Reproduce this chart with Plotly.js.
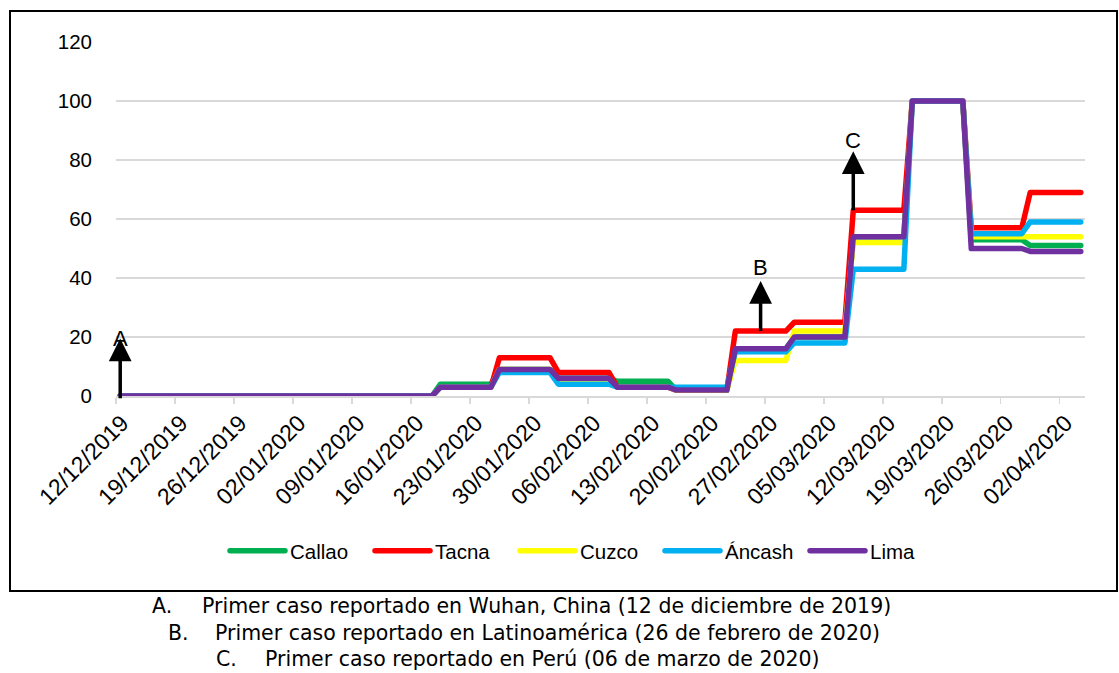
<!DOCTYPE html>
<html><head><meta charset="utf-8">
<script src="https://cdn.plot.ly/plotly-3.0.1.min.js"></script>
<style>
html,body{margin:0;padding:0;background:#fff;}
#chart{width:1119px;height:673px;}
.js-line{stroke-linejoin:round !important;stroke-linecap:round !important;}
</style></head><body><div id="chart"></div><script>
// Weekly values (week starting on Sunday)
const weekStarts = ['2019-12-08','2019-12-15','2019-12-22','2019-12-29','2020-01-05','2020-01-12','2020-01-19','2020-01-26','2020-02-02','2020-02-09','2020-02-16','2020-02-23','2020-03-01','2020-03-08','2020-03-15','2020-03-22','2020-03-29'];
const callao = [0,0,0,0,0,0,4,9,6,5,2,16,20,54,100,53,51];
const tacna  = [0,0,0,0,0,0,3,13,8,3,2,22,25,63,100,57,69];
const cuzco  = [0,0,0,0,0,0,3,9,5,3,2,12,22,52,100,54,54];
const ancash = [0,0,0,0,0,0,3,8,4,3,3,15,18,43,100,55,59];
const lima   = [0,0,0,0,0,0,3,9,6,3,2,16,20,54,100,50,49];
const seriesNames = ['Callao','Tacna','Cuzco','Áncash','Lima'];
const firstDay = '2019-12-12';
const lastDay = '2020-04-04';
const tickDates = ['2019-12-12','2019-12-19','2019-12-26','2020-01-02','2020-01-09','2020-01-16','2020-01-23','2020-01-30','2020-02-06','2020-02-13','2020-02-20','2020-02-27','2020-03-05','2020-03-12','2020-03-19','2020-03-26','2020-04-02'];
const tickLabels = ['12/12/2019','19/12/2019','26/12/2019','02/01/2020','09/01/2020','16/01/2020','23/01/2020','30/01/2020','06/02/2020','13/02/2020','20/02/2020','27/02/2020','05/03/2020','12/03/2020','19/03/2020','26/03/2020','02/04/2020'];
const markerLetters = ['A','B','C'];
const markerDates = ['2019-12-12','2020-02-26','2020-03-08'];
const footnotes = ['Primer caso reportado en Wuhan, China (12 de diciembre de 2019)','Primer caso reportado en Latinoamérica (26 de febrero de 2020)','Primer caso reportado en Perú (06 de marzo de 2020)'];

const colors = ['#00B050','#FF0000','#FFFF00','#00B0F0','#7030A0'];
const allSeries = [callao,tacna,cuzco,ancash,lima];

function addDays(s,n){const d=new Date(s+'T00:00:00Z');d.setUTCDate(d.getUTCDate()+n);return d.toISOString().slice(0,10);}
function build(vals){
  const xs=[],ys=[];
  weekStarts.forEach((w,i)=>{
    let s=w<firstDay?firstDay:w; let e=addDays(w,6); if(e>lastDay)e=lastDay;
    xs.push(s,e); ys.push(vals[i],vals[i]);
  });
  return {xs,ys};
}
const traces = allSeries.map((vals,i)=>{const b=build(vals);return {x:b.xs,y:b.ys,name:seriesNames[i],type:'scatter',mode:'lines',line:{color:colors[i],width:5.5},hoverinfo:'skip'};});

const W=1119,H=673,L=116,R=34,T=42,B=277;
const pw=W-L-R, ph=H-T-B;
const X=px=>(px-L)/pw, Y=py=>(H-B-py)/ph;

const ann=[];
const arrowTail=[-1.3,21.5,62.5], arrowHead=[19.5,39,83], letterY=[19.5,43.5,86.5];
markerDates.forEach((d,i)=>{
  ann.push({x:d,y:arrowHead[i],ax:d,ay:arrowTail[i],axref:'x',ayref:'y',xref:'x',yref:'y',showarrow:true,arrowhead:2,arrowsize:1.3,arrowwidth:3.5,arrowcolor:'#000',text:''});
  ann.push({x:d,y:letterY[i],xref:'x',yref:'y',showarrow:false,text:markerLetters[i],font:{family:'Liberation Sans, Arial, sans-serif',size:22,color:'#000'}});
});
const fnLetterX=[150,166,214], fnTextX=[200,213,263], fnY=[606,633,659];
const fnFont={family:'DejaVu Sans, Verdana, sans-serif',size:20.5,color:'#000'};
footnotes.forEach((t,i)=>{
  ann.push({x:X(fnLetterX[i]),y:Y(fnY[i]),xref:'paper',yref:'paper',xanchor:'left',yanchor:'middle',showarrow:false,text:markerLetters[i]+'.',font:fnFont});
  ann.push({x:X(fnTextX[i]),y:Y(fnY[i]),xref:'paper',yref:'paper',xanchor:'left',yanchor:'middle',showarrow:false,text:t,font:fnFont});
});

const layout={
  width:W,height:H,margin:{l:L,r:R,t:T,b:B},
  paper_bgcolor:'#fff',plot_bgcolor:'#fff',
  showlegend:true,
  legend:{orientation:'h',x:X(225),xanchor:'left',y:Y(551),yanchor:'middle',itemwidth:55,entrywidth:75,entrywidthmode:'pixels',font:{family:'Liberation Sans, Arial, sans-serif',size:20.5,color:'#000'},traceorder:'normal'},
  xaxis:{type:'date',range:[addDays(firstDay,-1)+' 12:00',lastDay+' 12:00'],tickmode:'array',tickvals:tickDates.map(t=>addDays(t,-1)+' 12:00'),ticktext:tickLabels,tickangle:-45,
    ticklabelshift:6,ticklabelstandoff:-3,
    showgrid:false,zeroline:false,showline:true,linecolor:'#d9d9d9',linewidth:1.5,ticks:'outside',ticklen:6,tickcolor:'#d9d9d9',tickwidth:1.5,
    tickfont:{family:'Liberation Sans, Arial, sans-serif',size:23,color:'#000'}},
  yaxis:{range:[0,120],tickmode:'array',tickvals:[0,20,40,60,80,100,120],showgrid:true,gridcolor:'#d9d9d9',gridwidth:1.5,zeroline:false,showline:false,ticks:'',ticklabelstandoff:23,
    tickfont:{family:'Liberation Sans, Arial, sans-serif',size:20.5,color:'#000'}},
  shapes:[{type:'rect',xref:'paper',yref:'paper',x0:X(10),x1:X(1117),y0:Y(591),y1:Y(11),line:{color:'#000',width:2},fillcolor:'rgba(0,0,0,0)'}],
  annotations:ann
};
Plotly.newPlot('chart',traces,layout,{staticPlot:true,displayModeBar:false});
</script></body></html>
